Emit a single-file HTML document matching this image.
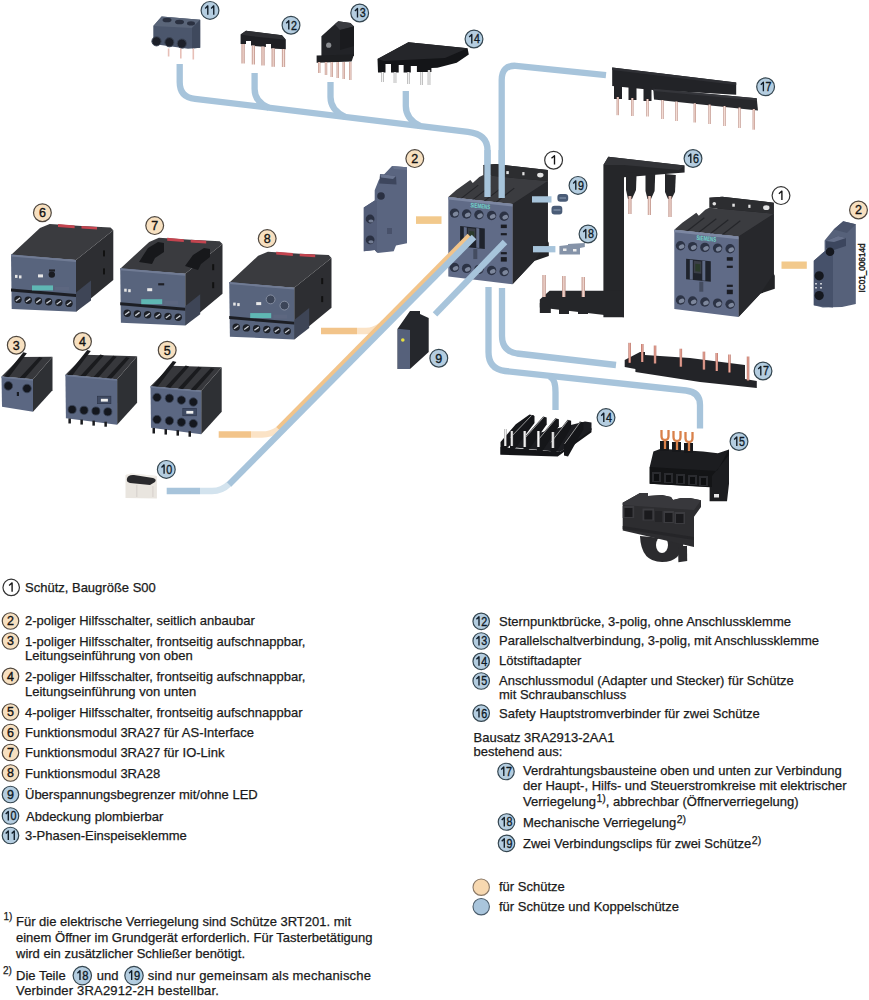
<!DOCTYPE html>
<html><head><meta charset="utf-8">
<style>
html,body{margin:0;padding:0;background:#fff;}
body{width:869px;height:1000px;position:relative;overflow:hidden;font-family:"Liberation Sans",sans-serif;color:#1a1a1a;}
.t{position:absolute;font-size:13px;line-height:15px;white-space:nowrap;-webkit-text-stroke:0.25px #1a1a1a;}
.t sup{font-size:10.5px;line-height:0;vertical-align:4px;margin-left:0.5px;}
svg{position:absolute;left:0;top:0;}
svg text{font-family:"Liberation Sans",sans-serif;}
</style></head><body>
<svg width="869" height="1000" viewBox="0 0 869 1000">
<defs>
<linearGradient id="pin" x1="0" x2="1"><stop offset="0" stop-color="#b98a80"/><stop offset="0.5" stop-color="#f4dcd4"/><stop offset="1" stop-color="#b98a80"/></linearGradient>
<linearGradient id="pinw" x1="0" x2="1"><stop offset="0" stop-color="#9a9a9a"/><stop offset="0.5" stop-color="#ffffff"/><stop offset="1" stop-color="#9a9a9a"/></linearGradient>
<linearGradient id="pinr" x1="0" x2="1"><stop offset="0" stop-color="#b0685c"/><stop offset="0.5" stop-color="#f0b0a2"/><stop offset="1" stop-color="#b0685c"/></linearGradient>
<linearGradient id="cop" x1="0" x2="1"><stop offset="0" stop-color="#9c5a38"/><stop offset="0.5" stop-color="#f0b890"/><stop offset="1" stop-color="#9c5a38"/></linearGradient>
<!-- contactor, origin at front top-left -->
<g id="ctr">
 <polygon points="35,-32 48,-33 99.5,-27 99.5,44 100.5,46 100.5,59 86,64 64.2,87.2 64.2,6.8" fill="#222326"/>
 <polygon points="64.2,6.8 99.5,-16 99.5,44 86,64 64.2,87.2" fill="#27282c"/>
 <polygon points="0,0 8,-7 22,-17 24.5,-14 31,-20 35,-22 99.5,-16 64.2,6.8" fill="#3b3c40"/>
 <polygon points="35,-32 48,-33 99.5,-27 99.5,-16 35,-22" fill="#2c2d30"/>
 <g fill="#e4e4e4"><circle cx="40" cy="-26" r="1.8"/><rect x="58" y="-26" width="2.5" height="3"/><rect x="74" y="-25" width="2.2" height="3.2"/><ellipse cx="92" cy="-22" rx="3.2" ry="2.4"/></g>
 <g stroke="#25262a" stroke-width="1.2"><path d="M12,2 L30,-12 M24,3 L42,-11 M36,4 L54,-10 M48,5 L66,-9"/></g>
 <polygon points="0,0 64.2,6.8 64.2,87.2 0,79.3" fill="#606b87"/>
 <polygon points="0,0 64.2,6.8 64.2,9.5 0,2.5" fill="#7c87a2"/>
 <text x="32" y="11.2" font-size="6.6" font-weight="bold" fill="#72d6cc" text-anchor="middle" textLength="20" lengthAdjust="spacingAndGlyphs" transform="rotate(6 32 9)">SIEMENS</text>
 <circle cx="6.2" cy="16" r="4.7" fill="#2c3345"/><ellipse cx="6.8" cy="17.3" rx="2.91" ry="2.12" fill="#7d879c" transform="rotate(-25 6.2 16)"/><circle cx="18.3" cy="16.9" r="4.7" fill="#2c3345"/><ellipse cx="18.900000000000002" cy="18.2" rx="2.91" ry="2.12" fill="#7d879c" transform="rotate(-25 18.3 16.9)"/><circle cx="30.6" cy="17.7" r="4.7" fill="#2c3345"/><ellipse cx="31.200000000000003" cy="19.0" rx="2.91" ry="2.12" fill="#7d879c" transform="rotate(-25 30.6 17.7)"/><circle cx="43.3" cy="18.4" r="4.7" fill="#2c3345"/><ellipse cx="43.9" cy="19.7" rx="2.91" ry="2.12" fill="#7d879c" transform="rotate(-25 43.3 18.4)"/><circle cx="55.8" cy="19.1" r="4.7" fill="#2c3345"/><ellipse cx="56.4" cy="20.400000000000002" rx="2.91" ry="2.12" fill="#7d879c" transform="rotate(-25 55.8 19.1)"/><circle cx="6.2" cy="70.3" r="4.7" fill="#2c3345"/><ellipse cx="6.8" cy="71.6" rx="2.91" ry="2.12" fill="#7d879c" transform="rotate(-25 6.2 70.3)"/><circle cx="18.3" cy="71.3" r="4.7" fill="#2c3345"/><ellipse cx="18.900000000000002" cy="72.6" rx="2.91" ry="2.12" fill="#7d879c" transform="rotate(-25 18.3 71.3)"/><circle cx="30.6" cy="72.3" r="4.7" fill="#2c3345"/><ellipse cx="31.200000000000003" cy="73.6" rx="2.91" ry="2.12" fill="#7d879c" transform="rotate(-25 30.6 72.3)"/><circle cx="43.3" cy="73.4" r="4.7" fill="#2c3345"/><ellipse cx="43.9" cy="74.7" rx="2.91" ry="2.12" fill="#7d879c" transform="rotate(-25 43.3 73.4)"/><circle cx="55.8" cy="74.5" r="4.7" fill="#2c3345"/><ellipse cx="56.4" cy="75.8" rx="2.91" ry="2.12" fill="#7d879c" transform="rotate(-25 55.8 74.5)"/>
 <polygon points="11.8,29 36.5,31.5 36.5,52 11.8,49.5" fill="#1f232c"/>
 <polygon points="15.5,30 18.5,30.3 18.5,50 15.5,49.7" fill="#606b87"/>
 <polygon points="28,31 31,31.3 31,51 28,50.7" fill="#606b87"/>
 <polygon points="19.5,31 27,31.7 27,44 19.5,43.3" fill="#3b3f48"/>
 <polygon points="21,34 26,34.5 26,42 21,41.5" fill="#2b3b2c"/>
 <rect x="25" y="52" width="4" height="10" fill="#444c60"/>
 <g fill="#1b1d24"><rect x="52.5" y="27.5" width="6" height="3.5"/><rect x="52.5" y="36" width="6" height="2.2"/><rect x="52.5" y="55" width="6" height="2.2"/><rect x="52.5" y="60" width="6" height="4.5"/></g>
</g>
<g id="fmod">
 <polygon points="65,5.6 102.3,-24.2 102.3,25.6 77.4,46.2 65,57.3" fill="#2d2e32"/>
 <polygon points="65,38 80,26 80,46 65,57.3" fill="#3e4556"/>
 <g fill="#111"><rect x="92" y="-4" width="2" height="6"/><rect x="92" y="14" width="2" height="6"/></g>
 <polygon points="0,0.6 29,-26.3 38.7,-30.4 70.5,-28.4 99.5,-27 102.3,-24.2 65,5.6" fill="#3a3b3f"/>
 <polygon points="47,-30.4 63.6,-29 63.6,-26.2 47,-27.5" fill="#c4444f"/>
 <polygon points="70.5,-28.4 86,-27.5 86,-24.8 70.5,-25.8" fill="#c4444f"/>
 <polygon points="0,0 65,5.6 65,57.3 0.7,54.6" fill="#58647d"/>
 <polygon points="0,0 65,5.6 65,7.5 0,2" fill="#707b94"/>
 <polygon points="0,34 65,39.6 65,42.5 0,37" fill="#1c1e24"/>
 <rect x="21" y="31" width="21" height="5" fill="#5fb7b4"/>
 <rect x="44" y="32.5" width="14" height="4" fill="#5d6780"/>
 <circle cx="7.0" cy="45.0" r="3.7" fill="#1d2027"/><path d="M4.8,46.6 l4.4,-3.2" stroke="#c9cdd4" stroke-width="1.3"/><circle cx="17.2" cy="45.8" r="3.7" fill="#1d2027"/><path d="M15.0,47.4 l4.4,-3.2" stroke="#c9cdd4" stroke-width="1.3"/><circle cx="27.4" cy="46.6" r="3.7" fill="#1d2027"/><path d="M25.2,48.2 l4.4,-3.2" stroke="#c9cdd4" stroke-width="1.3"/><circle cx="37.6" cy="47.4" r="3.7" fill="#1d2027"/><path d="M35.4,49.0 l4.4,-3.2" stroke="#c9cdd4" stroke-width="1.3"/><circle cx="47.8" cy="48.2" r="3.7" fill="#1d2027"/><path d="M45.6,49.8 l4.4,-3.2" stroke="#c9cdd4" stroke-width="1.3"/><circle cx="58.0" cy="49.0" r="3.7" fill="#1d2027"/><path d="M55.8,50.6 l4.4,-3.2" stroke="#c9cdd4" stroke-width="1.3"/>
 <rect x="4" y="20.5" width="2.5" height="3" fill="#e6e6e6"/><rect x="8" y="21" width="2.5" height="3" fill="#e6e6e6"/>
 <rect x="38" y="15" width="6" height="2.2" fill="#1e2026"/>
 <rect x="27" y="20" width="5" height="3" fill="#e8e8e8"/>
</g>
</defs>
<!-- ===== PIPES (behind) ===== -->
<g fill="none" stroke="#a7c4db" stroke-width="6.3" stroke-linejoin="round">
 <path d="M179.7,64 V82 Q179.7,97.5 195,98.8 L468,131.8 Q487.5,134 487.5,150 V197"/>
 <path d="M254.6,73 V89 Q254.6,102 269,107.8"/>
 <path d="M330.5,82 V97 Q330.5,110 345,116.8"/>
 <path d="M405.8,91 V106 Q405.8,119 420,125.9"/>
 <path d="M501.7,198 V80 Q501.7,65 516,65.8 L606,75.2"/>
 <path d="M488.5,287 V352 Q488.5,369 505,371 L686,390.5 Q700,392 700,405 V428.5"/>
 <path d="M502,288 V336 Q502,351 517,353.5 L616,365"/>
 <path d="M549,376.5 Q555.5,378 555.5,392 V410"/>
</g>
<!-- ===== COMPONENTS ===== -->
<use href="#fmod" x="11" y="254.4"/>
<circle cx="51.8" cy="274.6" r="3.2" fill="#1a1c22"/>
<use href="#fmod" x="120.2" y="268.2"/>
<g fill="#17181b"><polygon points="139,262 148,248 158,242 164,243 164,252 155,258 152,264"/><polygon points="185,266 193,255 204,248 210,249 210,257 201,264 198,270"/></g>
<use href="#fmod" x="229.2" y="282.1"/>
<g fill="#3c4558" stroke="#8a93a6" stroke-width="0.9"><circle cx="270.6" cy="299.4" r="4.4"/><circle cx="284.4" cy="305.6" r="4.4"/></g>
<use href="#ctr" x="448.3" y="197.1"/>
<use href="#ctr" x="674.3" y="229.7"/>
<!-- 11 terminal -->
<g>
 <polygon points="161.6,16.4 200.2,19.7 200.2,47.8 188,48.7 153.3,44 153.3,26.1" fill="#4b566c"/>
 <polygon points="161.6,16.4 200.2,19.7 192,28 153.3,26.1" fill="#5a6579"/>
 <polygon points="192,28 200.2,19.7 200.2,47.8 192,48.5" fill="#3f495d"/>
 <g fill="#2a3040"><ellipse cx="167" cy="20" rx="4.5" ry="2.3"/><ellipse cx="179.5" cy="22" rx="4.5" ry="2.3"/><ellipse cx="191" cy="23.4" rx="4" ry="2.1"/></g>
 <g fill="#1c1f28" stroke="#3c4556" stroke-width="1"><circle cx="156.5" cy="41.3" r="4.6"/><circle cx="169.4" cy="42.2" r="4.6"/><circle cx="181.8" cy="43.6" r="4.6"/></g>
 <g fill="#e7bfb7"><rect x="167.8" y="48.5" width="1.6" height="8"/><rect x="180" y="48.5" width="1.6" height="10"/><rect x="192.5" y="48.5" width="1.6" height="11"/></g>
</g>
<!-- 12 bridge -->
<g>
 <polygon points="240.6,34.5 246,30.8 282,35.3 285.8,39.7 285.8,49.2 271,48.5 271,44.1 265.9,44.1 265.9,47 251,45.6 251,41.1 246,41.1 246,44.1 240.6,44.1" fill="#1f2024"/>
 <polygon points="240.6,34.5 246,30.8 282,35.3 285.8,39.7 250,36" fill="#2e2f33"/>
 <g fill="url(#pin)"><rect x="241.5" y="44" width="3.2" height="19.5"/><rect x="251.8" y="45.5" width="3.2" height="19"/><rect x="261.4" y="46.5" width="3.2" height="19"/><rect x="271.6" y="48.3" width="3.2" height="18.5"/><rect x="281.9" y="49" width="3.2" height="18"/></g>
</g>
<!-- 13 parallel link -->
<g>
 <polygon points="321.4,36.3 334.7,24.2 338.3,21.3 350.4,23 354,26.6 354,56 321.4,56.5" fill="#222327"/>
 <polygon points="334.7,24.2 338.3,21.3 350.4,23 354,26.6 340,30" fill="#3a3b40"/>
 <polygon points="340,30 354,26.6 354,45.9 340,50" fill="#1a1b1e"/>
 <polygon points="316.6,55.6 354,54.4 351.6,61.6 316.6,62.8" fill="#1e1f22"/>
 <circle cx="328.7" cy="45.2" r="2.6" fill="#8a8c90"/>
 <g fill="url(#pin)"><rect x="318" y="62" width="2.4" height="11"/><rect x="324.8" y="62" width="2.4" height="13"/><rect x="330.6" y="62" width="2.4" height="15"/><rect x="336.6" y="62" width="2.4" height="16"/><rect x="342.6" y="62" width="2.4" height="17"/><rect x="349" y="62" width="2.4" height="18"/></g>
</g>
<!-- 14 top solder adapter -->
<g>
 <polygon points="377.5,59 408.4,42.3 467.6,48.3 468.8,54.4 456.7,62.8 437.4,67.7 431.4,68 431.4,72 416.9,72 416.9,66 410.8,66 410.8,72.5 403.6,72.5 403.6,65 398.7,65 398.7,72.5 391,72.5 391,64 385.5,64 385.5,72.5 378,72.5" fill="#141518"/>
 <polygon points="377.5,59 408.4,42.3 467.6,48.3 445,58 384,61" fill="#25262a"/>
 <g fill="url(#pinw)"><rect x="381.3" y="72" width="2.6" height="10"/><rect x="393.7" y="72" width="2.6" height="11"/><rect x="407" y="72" width="2.6" height="12"/><rect x="420.4" y="72" width="2.6" height="13"/><rect x="427.7" y="70" width="2.6" height="15"/></g>
</g>
<!-- 17 top wiring module -->
<g>
 <polygon points="612.2,67.4 736.2,82.6 736.2,94.7 653,90 612.2,86" fill="#222327"/>
 <polygon points="612.2,67.4 736.2,82.6 736.2,85 612.2,70" fill="#2e2f34"/>
 <g fill="#222327"><rect x="614" y="84" width="8" height="15"/><rect x="628.5" y="85" width="8" height="15"/><rect x="643.5" y="86" width="8" height="15"/></g>
 <polygon points="653.3,88.7 756.7,98.3 758,110.4 654,99.5" fill="#27282c"/>
 <polygon points="653.3,88.7 756.7,98.3 756.9,100.5 653.4,91" fill="#34353a"/>
 <g fill="url(#pin)"><rect x="661.3" y="100" width="2.4" height="19"/><rect x="675.3" y="101.5" width="2.4" height="19.5"/><rect x="693.5999999999999" y="103.2" width="2.4" height="19.299999999999997"/><rect x="708.4" y="104.5" width="2.4" height="19.5"/><rect x="723.3" y="106" width="2.4" height="20"/><rect x="738.3" y="107.5" width="2.4" height="20.5"/><rect x="752.5999999999999" y="109" width="2.4" height="20.69999999999999"/><rect x="616.5999999999999" y="97" width="2.4" height="18.200000000000003"/><rect x="631.0999999999999" y="98" width="2.4" height="18"/><rect x="646.3" y="99" width="2.4" height="17.5"/></g>
</g>
<!-- 16 safety connector -->
<g>
 <polygon points="603.4,165 608.3,156.7 684.6,165.5 684.6,172.4 624,177.3 624,317.2 603.4,317.2" fill="#252629"/>
 <polygon points="603.4,165 608.3,156.7 684.6,165.5 679,170 624,165 " fill="#333438"/>
 <polygon points="539.8,299.6 549.6,290.8 603.4,290.8 624,290.8 624,317.2 539.8,307.4" fill="#252629"/>
 <g fill="#252629"><polygon points="626,172 636.6,173 636,190 632,199 628,199 626,190"/><polygon points="645.5,173 655.2,174 654.6,191 651,199 647.5,199 645.5,191"/><polygon points="665,174 675.8,175 675,192 671.5,199 668,199 665,192"/>
 <rect x="539.8" y="303" width="11" height="10"/><rect x="559" y="305" width="10" height="9"/><rect x="578" y="306" width="10" height="8"/></g>
 <g fill="url(#pin)"><rect x="628.3" y="196" width="3.2" height="18"/><rect x="647.8" y="196" width="3.2" height="19"/><rect x="668.4" y="196" width="3.2" height="21"/><rect x="542.4" y="275" width="3.4" height="22"/><rect x="562.1" y="276" width="3.4" height="21"/><rect x="581.6" y="277" width="3.4" height="20"/></g>
</g>
<!-- 2 left aux -->
<polygon points="392,166.1 407,167.3 407,243.2 396,245.5 393.7,251.3 377.6,253 374.7,250.1 363.8,251.3 363.8,207.5 374.7,200.6 374.7,190.3 378.8,180" fill="#5a6580"/>
<polygon points="363.8,207.5 374.7,200.6 377,201 377,252.5 374.7,250.1 363.8,251.3" fill="#535d78"/>
<polygon points="392,166.1 407,167.3 407,170 394,169" fill="#67728c"/>
<polygon points="380,174 396,176 396.5,184.5 379.3,183.4" fill="#3d465d"/>
<polygon points="380,174 396,176 393,179 381,177.5" fill="#6a7590"/>
<g fill="#2a3042"><circle cx="370.1" cy="219" r="4.4"/><circle cx="370.1" cy="239.8" r="4.4"/><circle cx="381" cy="196" r="3.8"/></g>
<g fill="#737d94"><ellipse cx="371" cy="221" rx="2.6" ry="1.6"/><ellipse cx="371" cy="241.8" rx="2.6" ry="1.6"/></g>
<rect x="387" y="228" width="5" height="6" fill="#48516a"/>
<!-- 2 right aux -->
<polygon points="843.2,221.2 855.8,224.2 855.8,304 842,307 822.8,307.6 813.8,305.2 813.8,260.8 824.6,251.2 824.6,240.4 833.6,229.6" fill="#56617a"/>
<polygon points="813.8,260.8 824.6,251.2 833,250 833,307.5 813.8,305.2" fill="#46516a"/>
<polygon points="833.6,229.6 843.2,221.2 855.8,224.2 847,233" fill="#4a546c"/><polygon points="826,241 838,236 846,238 846,246 834,250 826,248" fill="#3c465e"/><polygon points="826,241 838,236 846,238 834,242" fill="#66708a"/>
<g fill="#15181f"><circle cx="819.2" cy="275.8" r="4.6"/><circle cx="819.2" cy="295.6" r="4.6"/><circle cx="830" cy="251.8" r="4.3"/></g>
<g fill="#c8ccd4"><rect x="815" y="283" width="2" height="1.5"/><rect x="820" y="283" width="2" height="1.5"/><rect x="815" y="287" width="2" height="1.5"/><rect x="820" y="287" width="2" height="1.5"/></g>
<text transform="translate(864.6,292.5) rotate(-90)" font-size="9.2" fill="#222" stroke="#222" stroke-width="0.45" textLength="49" lengthAdjust="spacingAndGlyphs">IC01_00614d</text>
<!-- 3,4,5 aux front -->
<g transform="translate(1.5,376.5)"><polygon points="31.5,2.835 51.0,-19.665 51.0,13.634999999999998 31.5,35.135" fill="#2e3034"/><polygon points="0,0 19.5,-19.5 51.0,-19.665 31.5,2.835" fill="#37383c"/><polygon points="2.4,0.2 21.9,-24.3 25.4,-23.3 7.4,0.7" fill="#1a1b1e"/><polygon points="18.1,1.6 37.6,-19.4 41.1,-18.4 23.1,2.1" fill="#1a1b1e"/><polygon points="0,0 31.5,2.835 31.5,35.135 0.5,30.299999999999997" fill="#5b6782"/><polygon points="0,0 31.5,2.835 31.5,4.335 0,1.5" fill="#6c7892"/><circle cx="6.8" cy="9.4" r="4.3" fill="#14171e" stroke="#3a4458" stroke-width="0.8"/><circle cx="25.5" cy="12" r="4.3" fill="#14171e" stroke="#3a4458" stroke-width="0.8"/><rect x="15.3" y="15.5" width="2.2" height="4" fill="#1a1d24"/></g>
<g transform="translate(65.4,374.7)"><polygon points="51.7,4.6530000000000005 71.7,-18.347 71.7,28.153 51.7,50.153" fill="#2e3034"/><polygon points="0,0 20,-20 71.7,-18.347 51.7,4.6530000000000005" fill="#37383c"/><polygon points="1.9,0.2 21.9,-24.8 25.4,-23.8 6.9,0.7" fill="#1a1b1e"/><polygon points="14.9,1.3 34.9,-20.2 38.4,-19.2 19.9,1.8" fill="#1a1b1e"/><polygon points="27.8,2.5 47.8,-19.0 51.3,-18.0 32.8,3.0" fill="#1a1b1e"/><polygon points="40.7,3.7 60.7,-17.8 64.2,-16.8 45.7,4.2" fill="#1a1b1e"/><polygon points="0,0 51.7,4.6530000000000005 51.7,50.153 0.5,43.5" fill="#5b6782"/><polygon points="0,0 51.7,4.6530000000000005 51.7,6.1530000000000005 0,1.5" fill="#6c7892"/><circle cx="6.7" cy="34.8" r="4.1" fill="#14171e" stroke="#3a4458" stroke-width="0.8"/><circle cx="18.6" cy="35.6" r="4.1" fill="#14171e" stroke="#3a4458" stroke-width="0.8"/><circle cx="30.5" cy="36.3" r="4.1" fill="#14171e" stroke="#3a4458" stroke-width="0.8"/><circle cx="42.4" cy="37.1" r="4.1" fill="#14171e" stroke="#3a4458" stroke-width="0.8"/><rect x="32" y="21.5" width="13.5" height="7.5" fill="#3f4a62" stroke="#2b3346" stroke-width="0.6"/><rect x="35.5" y="24.1" width="7" height="2.8" fill="#f0f0f0"/><rect x="3" y="43.77" width="2.5" height="5" fill="#1a1b1f"/><rect x="15" y="44.85" width="2.5" height="5" fill="#1a1b1f"/><rect x="27" y="45.93" width="2.5" height="5" fill="#1a1b1f"/><rect x="39" y="47.01" width="2.5" height="5" fill="#1a1b1f"/></g>
<g transform="translate(150.5,386.3)"><polygon points="50.7,4.563 71.2,-18.937 71.2,25.563 50.7,48.063" fill="#2e3034"/><polygon points="0,0 20.5,-20.5 71.2,-18.937 50.7,4.563" fill="#37383c"/><polygon points="1.9,0.2 22.4,-25.3 25.9,-24.3 6.9,0.7" fill="#1a1b1e"/><polygon points="14.6,1.3 35.1,-20.7 38.6,-19.7 19.6,1.8" fill="#1a1b1e"/><polygon points="27.3,2.5 47.8,-19.5 51.3,-18.5 32.3,3.0" fill="#1a1b1e"/><polygon points="39.9,3.6 60.4,-18.4 63.9,-17.4 44.9,4.1" fill="#1a1b1e"/><polygon points="0,0 50.7,4.563 50.7,48.063 0.5,41.5" fill="#5b6782"/><polygon points="0,0 50.7,4.563 50.7,6.063 0,1.5" fill="#6c7892"/><circle cx="6.5" cy="11.1" r="4.2" fill="#14171e" stroke="#3a4458" stroke-width="0.8"/><circle cx="18.9" cy="12" r="4.2" fill="#14171e" stroke="#3a4458" stroke-width="0.8"/><circle cx="30.9" cy="13.8" r="4.2" fill="#14171e" stroke="#3a4458" stroke-width="0.8"/><circle cx="42.8" cy="15.7" r="4.2" fill="#14171e" stroke="#3a4458" stroke-width="0.8"/><circle cx="6.5" cy="33.2" r="4.2" fill="#14171e" stroke="#3a4458" stroke-width="0.8"/><circle cx="18.9" cy="34.5" r="4.2" fill="#14171e" stroke="#3a4458" stroke-width="0.8"/><circle cx="30.9" cy="35.9" r="4.2" fill="#14171e" stroke="#3a4458" stroke-width="0.8"/><circle cx="42.8" cy="37.3" r="4.2" fill="#14171e" stroke="#3a4458" stroke-width="0.8"/><rect x="32.3" y="22" width="13.5" height="7.5" fill="#3f4a62" stroke="#2b3346" stroke-width="0.6"/><rect x="35.8" y="24.6" width="7" height="2.8" fill="#f0f0f0"/><rect x="2" y="41.68" width="2.5" height="5.5" fill="#1a1b1f"/><rect x="14" y="42.76" width="2.5" height="5.5" fill="#1a1b1f"/><rect x="26" y="43.84" width="2.5" height="5.5" fill="#1a1b1f"/><rect x="38" y="44.92" width="2.5" height="5.5" fill="#1a1b1f"/></g>
<!-- 9 surge suppressor -->
<polygon points="397.6,328.7 410,311 420,311 420,314 428.7,318 428.7,352 410,369 397.6,369" fill="#25272c"/>
<polygon points="397.6,328.7 410,330 410,369 397.6,369" fill="#56617b"/>
<circle cx="402.8" cy="340" r="1.8" fill="#e8e040"/>
<!-- 10 cover -->
<g>
 <polygon points="125.5,475 131,473.5 156.9,476 156.9,498.5 125.5,498" fill="#e9e5df"/>
 <polygon points="125.5,475 131,473.5 156.9,476 151,478" fill="#f2efea"/>
 <path d="M127,478.5 Q128,474.5 134,475 L153,478 Q157,479 155,482 L150,485 L130,483 Q126,482 127,478.5 Z" fill="#2a2a2d"/>
 <g stroke="#d0ccc6" stroke-width="0.8"><path d="M136.8,485 V497 M152.9,486 V497"/></g>
</g>
<!-- 18,19 -->
<g fill="#4a5c77"><rect x="557.4" y="194" width="10.8" height="7.8" rx="3"/><rect x="551.5" y="205.7" width="10.8" height="8.8" rx="3"/></g><g stroke="#8fa0b8" stroke-width="1"><path d="M559.5,198 H566 M553.5,210 H560.5"/></g>
<g fill="#8593a8"><polygon points="559.4,246 568,245 568,244 584.8,243 584.8,247 580,248 580,254.6 559.4,254.6"/><rect x="563" y="248.5" width="3.5" height="2.5" fill="#eee"/><rect x="573" y="249" width="3.5" height="2.5" fill="#eee"/></g>
<!-- 14 bottom, 15, 17 bottom -->
<g>
 <polygon points="500.5,441.9 515.8,424.2 529.5,414.5 534,415.5 534,423 505,450 500.5,454.8" fill="#151619"/>
 <polygon points="500.5,447 560,452 591.5,428 591.5,432.2 557.7,456.4 500.5,454.8" fill="#141518"/>
 <polygon points="510,440 585,421.5 591.5,422.6 591.5,430 560,452 510,447" fill="#1c1d21"/>
 <polygon points="510.0,437.0 531.0,415.0 534.5,416.0 534.5,423.0 514.0,450.0 510.0,449.0" fill="#151619"/><path d="M510.5,437.5 L531.5,415.5" stroke="#cfcfcf" stroke-width="0.7"/><polygon points="523.5,438.6 543.2,416.6 546.7,417.6 546.7,424.6 527.5,451.6 523.5,450.6" fill="#151619"/><path d="M524.0,439.1 L543.7,417.1" stroke="#cfcfcf" stroke-width="0.7"/><polygon points="537.0,440.2 555.4,418.2 558.9,419.2 558.9,426.2 541.0,453.2 537.0,452.2" fill="#151619"/><path d="M537.5,440.7 L555.9,418.7" stroke="#cfcfcf" stroke-width="0.7"/><polygon points="550.5,441.8 567.6,419.8 571.1,420.8 571.1,427.8 554.5,454.8 550.5,453.8" fill="#151619"/><path d="M551.0,442.3 L568.1,420.3" stroke="#cfcfcf" stroke-width="0.7"/><polygon points="564.0,443.4 579.8,421.4 583.3,422.4 583.3,429.4 568.0,456.4 564.0,455.4" fill="#151619"/><path d="M564.5,443.9 L580.3,421.9" stroke="#cfcfcf" stroke-width="0.7"/>
 <g fill="url(#pinw)"><rect x="504" y="429" width="2.6" height="17"/><rect x="510.5" y="431" width="2.6" height="15"/><rect x="523.3" y="431" width="2.8" height="16"/><rect x="537" y="431" width="2.8" height="16"/><rect x="551.5" y="432" width="2.8" height="16"/></g>
</g>
<g>
 <polygon points="624.7,360 640,352 645,352 645,355 690,358 745,365 745,379 756.8,381 756.8,388 700,382 635.4,372 635.4,369 624.7,367" fill="#232428"/>
 <g fill="url(#pinr)"><rect x="628.4" y="342.8" width="2.5" height="20"/><rect x="641" y="344" width="2.5" height="18"/><rect x="653.8" y="345.5" width="2.5" height="18"/><rect x="679.6" y="348.7" width="2.5" height="18"/><rect x="702.7" y="351.6" width="2.5" height="18"/><rect x="715.5" y="353" width="2.5" height="18"/><rect x="728.2" y="354.5" width="2.5" height="18"/><rect x="746.8" y="356.5" width="2.5" height="24"/></g>
</g>
<g>
 <polygon points="653.4,451.4 660.8,448.7 703,451.4 717.9,453.3 729,449.6 729,483.7 727,501.2 709.6,501.2 709.6,487.3 649.7,483.7 649.7,467" fill="#1c1d20"/>
 <polygon points="649.7,467 717,471 729,449.6 729,455 712,476 712,487 649.7,483.7" fill="#131416"/>
 <g fill="#2a2b2f"><rect x="652" y="472" width="9" height="10"/><rect x="664" y="473" width="9" height="10"/><rect x="676" y="474" width="9" height="10"/><rect x="688" y="475" width="9" height="10"/><rect x="699" y="476" width="9" height="10"/></g>
 <g fill="#0e0f11"><rect x="654" y="474" width="5" height="7"/><rect x="666" y="475" width="5" height="7"/><rect x="678" y="476" width="5" height="7"/><rect x="690" y="477" width="5" height="7"/><rect x="701" y="478" width="5" height="7"/></g>
 <rect x="714" y="494" width="5" height="3.5" fill="#e6e6e6"/>
 <g fill="#17181b"><rect x="660" y="441" width="9" height="10"/><rect x="672" y="442" width="9" height="10"/><rect x="684" y="443" width="9" height="10"/></g>
 <path d="M665,449 V440 M677,450 V441 M689,451 V442 M661.5,430 V436 q0,4 3.5,4 q3.5,0 3.5,-4 V430 M673.5,431 V437 q0,4 3.5,4 q3.5,0 3.5,-4 V431 M685.5,432 V438 q0,4 3.5,4 q3.5,0 3.5,-4 V432" fill="none" stroke="#d9814a" stroke-width="2.3"/>
</g>
<g>
 <path d="M640,536 Q641,562 662,562 Q682,562 684,540 Z" fill="#2b2b2e"/>
 <ellipse cx="662" cy="545" rx="6" ry="8" fill="#fff"/>
 <polygon points="622.7,502.8 640,493 648,493 648,496 662,495 671,497 673,500 681,498 690,498 701,500.2 701,507 694,516.7 694,547 622.7,530.6" fill="#2d2d30"/>
 <polygon points="622.7,502.8 640,493 648,493 648,496 662,495 671,497 673,500 681,498 690,498 701,500.2 694,510 622.7,505" fill="#38383c"/>
 <polygon points="678,546 687,546 687.2,561 678.4,562.3" fill="#2b2b2e"/>
 <g fill="#3b3b3f"><rect x="622.7" y="506" width="11.5" height="12"/><rect x="642.5" y="508.5" width="11.5" height="12"/><rect x="663.4" y="511" width="10.5" height="12"/><rect x="674.5" y="512" width="10.5" height="12"/></g>
 <g fill="#1a1a1d"><rect x="624.5" y="508" width="8" height="9"/><rect x="644.3" y="510.5" width="8" height="9"/><rect x="665" y="513" width="7.5" height="9"/><rect x="676" y="514" width="7.5" height="9"/></g>
 <rect x="655" y="511" width="7" height="11" fill="#232326"/>
 <polygon points="622.7,526 694,537 694,540 622.7,529" fill="#252528"/>
</g>
<!-- ===== long diagonal pipes ===== -->
<g fill="none" stroke-width="6.3">
 <path d="M321,331 H357" stroke="#f2c48a"/>
 <path d="M357,331 H366 Q374,331 381,325.6 L384,322.5" stroke="#fbe3c6"/>
 <path d="M218.7,434.5 H251" stroke="#f2c48a"/>
 <path d="M251,434.5 H262 Q271,434.5 278.5,429.2" stroke="#fbe3c6"/>
 <path d="M278.5,429.2 L469.8,236" stroke="#f2c48a"/>
 <path d="M166.7,491 H200" stroke="#a7c4db"/>
 <path d="M200,491 H212 Q222,491 229,484" stroke="#d3e3ee"/>
 <path d="M229,484.5 L474,237" stroke="#a7c4db"/>
 <path d="M505,242 L435,314.4" stroke="#a7c4db"/>
</g>
<g fill="none" stroke="#a7c4db" stroke-width="6.3">
 <path d="M487.5,150 V197"/><path d="M501.7,150 V198"/>
 <path d="M532,199.4 H551.5"/><path d="M533,249.2 H555.4"/>
</g>
<rect x="416" y="216.3" width="25.5" height="7.6" fill="#f2c98c"/>
<rect x="781.5" y="261.5" width="25.3" height="7.3" fill="#f2c98c"/>

<circle cx="11.2" cy="587.4" r="8.25" fill="#ffffff" stroke="#333333" stroke-width="1.2"/><path d="M12.10,591.80 V582.85 L9.10,585.45" fill="none" stroke="#111" stroke-width="1.35" stroke-linejoin="round"/><circle cx="10.5" cy="621" r="8.25" fill="#f7e0c0" stroke="#4e463e" stroke-width="1.2"/><text x="10.50" y="625.40" font-size="12.5" text-anchor="middle" fill="#111" stroke="#111" stroke-width="0.35" transform="translate(10.50,0) scale(1.0,1) translate(-10.50,0)">2</text><circle cx="10.5" cy="641" r="8.25" fill="#f7e0c0" stroke="#4e463e" stroke-width="1.2"/><text x="10.50" y="645.40" font-size="12.5" text-anchor="middle" fill="#111" stroke="#111" stroke-width="0.35" transform="translate(10.50,0) scale(1.0,1) translate(-10.50,0)">3</text><circle cx="10.5" cy="676.3" r="8.25" fill="#f7e0c0" stroke="#4e463e" stroke-width="1.2"/><text x="10.50" y="680.70" font-size="12.5" text-anchor="middle" fill="#111" stroke="#111" stroke-width="0.35" transform="translate(10.50,0) scale(1.0,1) translate(-10.50,0)">4</text><circle cx="10.5" cy="712" r="8.25" fill="#f7e0c0" stroke="#4e463e" stroke-width="1.2"/><text x="10.50" y="716.40" font-size="12.5" text-anchor="middle" fill="#111" stroke="#111" stroke-width="0.35" transform="translate(10.50,0) scale(1.0,1) translate(-10.50,0)">5</text><circle cx="10.5" cy="732.5" r="8.25" fill="#f7e0c0" stroke="#4e463e" stroke-width="1.2"/><text x="10.50" y="736.90" font-size="12.5" text-anchor="middle" fill="#111" stroke="#111" stroke-width="0.35" transform="translate(10.50,0) scale(1.0,1) translate(-10.50,0)">6</text><circle cx="10.5" cy="752.5" r="8.25" fill="#f7e0c0" stroke="#4e463e" stroke-width="1.2"/><text x="10.50" y="756.90" font-size="12.5" text-anchor="middle" fill="#111" stroke="#111" stroke-width="0.35" transform="translate(10.50,0) scale(1.0,1) translate(-10.50,0)">7</text><circle cx="10.5" cy="773" r="8.25" fill="#f7e0c0" stroke="#4e463e" stroke-width="1.2"/><text x="10.50" y="777.40" font-size="12.5" text-anchor="middle" fill="#111" stroke="#111" stroke-width="0.35" transform="translate(10.50,0) scale(1.0,1) translate(-10.50,0)">8</text><circle cx="10.5" cy="794.5" r="8.25" fill="#b4cde0" stroke="#34454f" stroke-width="1.2"/><text x="10.50" y="798.90" font-size="12.5" text-anchor="middle" fill="#0e1a26" stroke="#0e1a26" stroke-width="0.35" transform="translate(10.50,0) scale(1.0,1) translate(-10.50,0)">9</text><circle cx="10.5" cy="816" r="8.25" fill="#b4cde0" stroke="#34454f" stroke-width="1.2"/><path d="M8.29,820.40 V811.45 L5.71,814.05" fill="none" stroke="#0e1a26" stroke-width="1.35" stroke-linejoin="round"/><text x="13.49" y="820.40" font-size="12.5" text-anchor="middle" fill="#0e1a26" stroke="#0e1a26" stroke-width="0.35" transform="translate(13.49,0) scale(0.86,1) translate(-13.49,0)">0</text><circle cx="10.5" cy="835.5" r="8.25" fill="#b4cde0" stroke="#34454f" stroke-width="1.2"/><path d="M8.29,839.90 V830.95 L5.71,833.55" fill="none" stroke="#0e1a26" stroke-width="1.35" stroke-linejoin="round"/><path d="M14.26,839.90 V830.95 L11.68,833.55" fill="none" stroke="#0e1a26" stroke-width="1.35" stroke-linejoin="round"/><circle cx="481.2" cy="621.3" r="8.25" fill="#b4cde0" stroke="#34454f" stroke-width="1.2"/><path d="M478.99,625.70 V616.75 L476.41,619.35" fill="none" stroke="#0e1a26" stroke-width="1.35" stroke-linejoin="round"/><text x="484.19" y="625.70" font-size="12.5" text-anchor="middle" fill="#0e1a26" stroke="#0e1a26" stroke-width="0.35" transform="translate(484.19,0) scale(0.86,1) translate(-484.19,0)">2</text><circle cx="481.2" cy="641" r="8.25" fill="#b4cde0" stroke="#34454f" stroke-width="1.2"/><path d="M478.99,645.40 V636.45 L476.41,639.05" fill="none" stroke="#0e1a26" stroke-width="1.35" stroke-linejoin="round"/><text x="484.19" y="645.40" font-size="12.5" text-anchor="middle" fill="#0e1a26" stroke="#0e1a26" stroke-width="0.35" transform="translate(484.19,0) scale(0.86,1) translate(-484.19,0)">3</text><circle cx="481.2" cy="661.3" r="8.25" fill="#b4cde0" stroke="#34454f" stroke-width="1.2"/><path d="M478.99,665.70 V656.75 L476.41,659.35" fill="none" stroke="#0e1a26" stroke-width="1.35" stroke-linejoin="round"/><text x="484.19" y="665.70" font-size="12.5" text-anchor="middle" fill="#0e1a26" stroke="#0e1a26" stroke-width="0.35" transform="translate(484.19,0) scale(0.86,1) translate(-484.19,0)">4</text><circle cx="481.2" cy="681" r="8.25" fill="#b4cde0" stroke="#34454f" stroke-width="1.2"/><path d="M478.99,685.40 V676.45 L476.41,679.05" fill="none" stroke="#0e1a26" stroke-width="1.35" stroke-linejoin="round"/><text x="484.19" y="685.40" font-size="12.5" text-anchor="middle" fill="#0e1a26" stroke="#0e1a26" stroke-width="0.35" transform="translate(484.19,0) scale(0.86,1) translate(-484.19,0)">5</text><circle cx="481.2" cy="713.2" r="8.25" fill="#b4cde0" stroke="#34454f" stroke-width="1.2"/><path d="M478.99,717.60 V708.65 L476.41,711.25" fill="none" stroke="#0e1a26" stroke-width="1.35" stroke-linejoin="round"/><text x="484.19" y="717.60" font-size="12.5" text-anchor="middle" fill="#0e1a26" stroke="#0e1a26" stroke-width="0.35" transform="translate(484.19,0) scale(0.86,1) translate(-484.19,0)">6</text><circle cx="506" cy="771.5" r="8.25" fill="#b4cde0" stroke="#34454f" stroke-width="1.2"/><path d="M503.79,775.90 V766.95 L501.21,769.55" fill="none" stroke="#0e1a26" stroke-width="1.35" stroke-linejoin="round"/><text x="508.99" y="775.90" font-size="12.5" text-anchor="middle" fill="#0e1a26" stroke="#0e1a26" stroke-width="0.35" transform="translate(508.99,0) scale(0.86,1) translate(-508.99,0)">7</text><circle cx="506.5" cy="822" r="8.25" fill="#b4cde0" stroke="#34454f" stroke-width="1.2"/><path d="M504.29,826.40 V817.45 L501.71,820.05" fill="none" stroke="#0e1a26" stroke-width="1.35" stroke-linejoin="round"/><text x="509.49" y="826.40" font-size="12.5" text-anchor="middle" fill="#0e1a26" stroke="#0e1a26" stroke-width="0.35" transform="translate(509.49,0) scale(0.86,1) translate(-509.49,0)">8</text><circle cx="506.5" cy="843.3" r="8.25" fill="#b4cde0" stroke="#34454f" stroke-width="1.2"/><path d="M504.29,847.70 V838.75 L501.71,841.35" fill="none" stroke="#0e1a26" stroke-width="1.35" stroke-linejoin="round"/><text x="509.49" y="847.70" font-size="12.5" text-anchor="middle" fill="#0e1a26" stroke="#0e1a26" stroke-width="0.35" transform="translate(509.49,0) scale(0.86,1) translate(-509.49,0)">9</text><circle cx="481.2" cy="887.2" r="8.2" fill="#f7d8b0" stroke="#8a7866" stroke-width="1.1"/><circle cx="481.2" cy="906.7" r="8.2" fill="#a9c5dc" stroke="#4a5c6b" stroke-width="1.1"/><circle cx="82.3" cy="975.6" r="9.2" fill="#b4cde0" stroke="#34454f" stroke-width="1.2"/><path d="M79.97,980.00 V970.69 L77.39,973.29" fill="none" stroke="#0e1a26" stroke-width="1.35" stroke-linejoin="round"/><text x="85.41" y="980.00" font-size="13" text-anchor="middle" fill="#0e1a26" stroke="#0e1a26" stroke-width="0.35" transform="translate(85.41,0) scale(0.86,1) translate(-85.41,0)">8</text><circle cx="134" cy="975.6" r="9.2" fill="#b4cde0" stroke="#34454f" stroke-width="1.2"/><path d="M131.67,980.00 V970.69 L129.09,973.29" fill="none" stroke="#0e1a26" stroke-width="1.35" stroke-linejoin="round"/><text x="137.11" y="980.00" font-size="13" text-anchor="middle" fill="#0e1a26" stroke="#0e1a26" stroke-width="0.35" transform="translate(137.11,0) scale(0.86,1) translate(-137.11,0)">9</text><circle cx="210" cy="10.4" r="8.9" fill="#b4cde0" stroke="#34454f" stroke-width="1.2"/><path d="M207.79,14.80 V5.85 L205.21,8.45" fill="none" stroke="#0e1a26" stroke-width="1.35" stroke-linejoin="round"/><path d="M213.76,14.80 V5.85 L211.18,8.45" fill="none" stroke="#0e1a26" stroke-width="1.35" stroke-linejoin="round"/><circle cx="291" cy="25.2" r="8.9" fill="#b4cde0" stroke="#34454f" stroke-width="1.2"/><path d="M288.79,29.60 V20.65 L286.21,23.25" fill="none" stroke="#0e1a26" stroke-width="1.35" stroke-linejoin="round"/><text x="293.99" y="29.60" font-size="12.5" text-anchor="middle" fill="#0e1a26" stroke="#0e1a26" stroke-width="0.35" transform="translate(293.99,0) scale(0.86,1) translate(-293.99,0)">2</text><circle cx="359.7" cy="13" r="8.9" fill="#b4cde0" stroke="#34454f" stroke-width="1.2"/><path d="M357.49,17.40 V8.45 L354.91,11.05" fill="none" stroke="#0e1a26" stroke-width="1.35" stroke-linejoin="round"/><text x="362.69" y="17.40" font-size="12.5" text-anchor="middle" fill="#0e1a26" stroke="#0e1a26" stroke-width="0.35" transform="translate(362.69,0) scale(0.86,1) translate(-362.69,0)">3</text><circle cx="474" cy="39" r="8.9" fill="#b4cde0" stroke="#34454f" stroke-width="1.2"/><path d="M471.79,43.40 V34.45 L469.21,37.05" fill="none" stroke="#0e1a26" stroke-width="1.35" stroke-linejoin="round"/><text x="476.99" y="43.40" font-size="12.5" text-anchor="middle" fill="#0e1a26" stroke="#0e1a26" stroke-width="0.35" transform="translate(476.99,0) scale(0.86,1) translate(-476.99,0)">4</text><circle cx="765.6" cy="86.8" r="8.9" fill="#b4cde0" stroke="#34454f" stroke-width="1.2"/><path d="M763.39,91.20 V82.25 L760.81,84.85" fill="none" stroke="#0e1a26" stroke-width="1.35" stroke-linejoin="round"/><text x="768.59" y="91.20" font-size="12.5" text-anchor="middle" fill="#0e1a26" stroke="#0e1a26" stroke-width="0.35" transform="translate(768.59,0) scale(0.86,1) translate(-768.59,0)">7</text><circle cx="553.6" cy="160.2" r="8.9" fill="#ffffff" stroke="#333333" stroke-width="1.2"/><path d="M554.50,164.60 V155.65 L551.50,158.25" fill="none" stroke="#111" stroke-width="1.35" stroke-linejoin="round"/><circle cx="693" cy="158.5" r="8.9" fill="#b4cde0" stroke="#34454f" stroke-width="1.2"/><path d="M690.79,162.90 V153.95 L688.21,156.55" fill="none" stroke="#0e1a26" stroke-width="1.35" stroke-linejoin="round"/><text x="695.99" y="162.90" font-size="12.5" text-anchor="middle" fill="#0e1a26" stroke="#0e1a26" stroke-width="0.35" transform="translate(695.99,0) scale(0.86,1) translate(-695.99,0)">6</text><circle cx="578" cy="185.4" r="8.9" fill="#b4cde0" stroke="#34454f" stroke-width="1.2"/><path d="M575.79,189.80 V180.85 L573.21,183.45" fill="none" stroke="#0e1a26" stroke-width="1.35" stroke-linejoin="round"/><text x="580.99" y="189.80" font-size="12.5" text-anchor="middle" fill="#0e1a26" stroke="#0e1a26" stroke-width="0.35" transform="translate(580.99,0) scale(0.86,1) translate(-580.99,0)">9</text><circle cx="588" cy="234" r="8.9" fill="#b4cde0" stroke="#34454f" stroke-width="1.2"/><path d="M585.79,238.40 V229.45 L583.21,232.05" fill="none" stroke="#0e1a26" stroke-width="1.35" stroke-linejoin="round"/><text x="590.99" y="238.40" font-size="12.5" text-anchor="middle" fill="#0e1a26" stroke="#0e1a26" stroke-width="0.35" transform="translate(590.99,0) scale(0.86,1) translate(-590.99,0)">8</text><circle cx="781" cy="195.6" r="8.9" fill="#ffffff" stroke="#333333" stroke-width="1.2"/><path d="M781.90,200.00 V191.05 L778.90,193.65" fill="none" stroke="#111" stroke-width="1.35" stroke-linejoin="round"/><circle cx="858.5" cy="210" r="8.9" fill="#f7e0c0" stroke="#4e463e" stroke-width="1.2"/><text x="858.50" y="214.40" font-size="12.5" text-anchor="middle" fill="#111" stroke="#111" stroke-width="0.35" transform="translate(858.50,0) scale(1.0,1) translate(-858.50,0)">2</text><circle cx="414.8" cy="158.6" r="8.9" fill="#f7e0c0" stroke="#4e463e" stroke-width="1.2"/><text x="414.80" y="163.00" font-size="12.5" text-anchor="middle" fill="#111" stroke="#111" stroke-width="0.35" transform="translate(414.80,0) scale(1.0,1) translate(-414.80,0)">2</text><circle cx="42.4" cy="212.7" r="8.9" fill="#f7e0c0" stroke="#4e463e" stroke-width="1.2"/><text x="42.40" y="217.10" font-size="12.5" text-anchor="middle" fill="#111" stroke="#111" stroke-width="0.35" transform="translate(42.40,0) scale(1.0,1) translate(-42.40,0)">6</text><circle cx="154.7" cy="225.6" r="8.9" fill="#f7e0c0" stroke="#4e463e" stroke-width="1.2"/><text x="154.70" y="230.00" font-size="12.5" text-anchor="middle" fill="#111" stroke="#111" stroke-width="0.35" transform="translate(154.70,0) scale(1.0,1) translate(-154.70,0)">7</text><circle cx="267.2" cy="238.6" r="8.9" fill="#f7e0c0" stroke="#4e463e" stroke-width="1.2"/><text x="267.20" y="243.00" font-size="12.5" text-anchor="middle" fill="#111" stroke="#111" stroke-width="0.35" transform="translate(267.20,0) scale(1.0,1) translate(-267.20,0)">8</text><circle cx="16.3" cy="345.2" r="8.9" fill="#f7e0c0" stroke="#4e463e" stroke-width="1.2"/><text x="16.30" y="349.60" font-size="12.5" text-anchor="middle" fill="#111" stroke="#111" stroke-width="0.35" transform="translate(16.30,0) scale(1.0,1) translate(-16.30,0)">3</text><circle cx="82.5" cy="341.5" r="8.9" fill="#f7e0c0" stroke="#4e463e" stroke-width="1.2"/><text x="82.50" y="345.90" font-size="12.5" text-anchor="middle" fill="#111" stroke="#111" stroke-width="0.35" transform="translate(82.50,0) scale(1.0,1) translate(-82.50,0)">4</text><circle cx="167.2" cy="350.2" r="8.9" fill="#f7e0c0" stroke="#4e463e" stroke-width="1.2"/><text x="167.20" y="354.60" font-size="12.5" text-anchor="middle" fill="#111" stroke="#111" stroke-width="0.35" transform="translate(167.20,0) scale(1.0,1) translate(-167.20,0)">5</text><circle cx="438.8" cy="358.2" r="8.9" fill="#b4cde0" stroke="#34454f" stroke-width="1.2"/><text x="438.80" y="362.60" font-size="12.5" text-anchor="middle" fill="#0e1a26" stroke="#0e1a26" stroke-width="0.35" transform="translate(438.80,0) scale(1.0,1) translate(-438.80,0)">9</text><circle cx="166.3" cy="469.4" r="8.9" fill="#b4cde0" stroke="#34454f" stroke-width="1.2"/><path d="M164.09,473.80 V464.85 L161.51,467.45" fill="none" stroke="#0e1a26" stroke-width="1.35" stroke-linejoin="round"/><text x="169.29" y="473.80" font-size="12.5" text-anchor="middle" fill="#0e1a26" stroke="#0e1a26" stroke-width="0.35" transform="translate(169.29,0) scale(0.86,1) translate(-169.29,0)">0</text><circle cx="763" cy="371" r="8.9" fill="#b4cde0" stroke="#34454f" stroke-width="1.2"/><path d="M760.79,375.40 V366.45 L758.21,369.05" fill="none" stroke="#0e1a26" stroke-width="1.35" stroke-linejoin="round"/><text x="765.99" y="375.40" font-size="12.5" text-anchor="middle" fill="#0e1a26" stroke="#0e1a26" stroke-width="0.35" transform="translate(765.99,0) scale(0.86,1) translate(-765.99,0)">7</text><circle cx="606" cy="417.6" r="8.9" fill="#b4cde0" stroke="#34454f" stroke-width="1.2"/><path d="M603.79,422.00 V413.05 L601.21,415.65" fill="none" stroke="#0e1a26" stroke-width="1.35" stroke-linejoin="round"/><text x="608.99" y="422.00" font-size="12.5" text-anchor="middle" fill="#0e1a26" stroke="#0e1a26" stroke-width="0.35" transform="translate(608.99,0) scale(0.86,1) translate(-608.99,0)">4</text><circle cx="739" cy="441.5" r="8.9" fill="#b4cde0" stroke="#34454f" stroke-width="1.2"/><path d="M736.79,445.90 V436.95 L734.21,439.55" fill="none" stroke="#0e1a26" stroke-width="1.35" stroke-linejoin="round"/><text x="741.99" y="445.90" font-size="12.5" text-anchor="middle" fill="#0e1a26" stroke="#0e1a26" stroke-width="0.35" transform="translate(741.99,0) scale(0.86,1) translate(-741.99,0)">5</text>
</svg>
<div class="t" style="left:25px;top:579.6px;">Schütz, Baugröße S00</div><div class="t" style="left:25px;top:613.0px;">2-poliger Hilfsschalter, seitlich anbaubar</div><div class="t" style="left:25px;top:633.5px;">1-poliger Hilfsschalter, frontseitig aufschnappbar,</div><div class="t" style="left:25px;top:648.0px;">Leitungseinführung von oben</div><div class="t" style="left:25px;top:669.0px;">2-poliger Hilfsschalter, frontseitig aufschnappbar,</div><div class="t" style="left:25px;top:683.5px;">Leitungseinführung von unten</div><div class="t" style="left:25px;top:704.5px;">4-poliger Hilfsschalter, frontseitig aufschnappbar</div><div class="t" style="left:25px;top:725.0px;">Funktionsmodul 3RA27 für AS-Interface</div><div class="t" style="left:25px;top:745.0px;">Funktionsmodul 3RA27 für IO-Link</div><div class="t" style="left:25px;top:765.5px;">Funktionsmodul 3RA28</div><div class="t" style="left:25px;top:787.0px;">Überspannungsbegrenzer mit/ohne LED</div><div class="t" style="left:26px;top:808.5px;">Abdeckung plombierbar</div><div class="t" style="left:25px;top:828.0px;">3-Phasen-Einspeiseklemme</div><div class="t" style="left:499px;top:614.0px;">Sternpunktbrücke, 3-polig, ohne Anschlussklemme</div><div class="t" style="left:499px;top:633.0px;">Parallelschaltverbindung, 3-polig, mit Anschlussklemme</div><div class="t" style="left:499px;top:653.0px;">Lötstiftadapter</div><div class="t" style="left:499px;top:672.5px;">Anschlussmodul (Adapter und Stecker) für Schütze</div><div class="t" style="left:499px;top:686.5px;">mit Schraubanschluss</div><div class="t" style="left:499px;top:705.5px;">Safety Hauptstromverbinder für zwei Schütze</div><div class="t" style="left:473.5px;top:729.5px;">Bausatz 3RA2913-2AA1</div><div class="t" style="left:473.5px;top:744.0px;">bestehend aus:</div><div class="t" style="left:523px;top:762.5px;">Verdrahtungsbausteine oben und unten zur Verbindung</div><div class="t" style="left:523px;top:778.0px;">der Haupt-, Hilfs- und Steuerstromkreise mit elektrischer</div><div class="t" style="left:523px;top:793.5px;">Verriegelung<sup>1)</sup>, abbrechbar (Öffnerverriegelung)</div><div class="t" style="left:523px;top:814.5px;">Mechanische Verriegelung<sup>2)</sup></div><div class="t" style="left:523px;top:835.8px;">Zwei Verbindungsclips für zwei Schütze<sup>2)</sup></div><div class="t" style="left:499px;top:879.0px;">für Schütze</div><div class="t" style="left:499px;top:898.8px;">für Schütze und Koppelschütze</div><div class="t" style="left:3.5px;top:909.0px;font-size:10px">1)</div><div class="t" style="left:16px;top:913.5px;">Für die elektrische Verriegelung sind Schütze 3RT201. mit</div><div class="t" style="left:16px;top:929.5px;">einem Öffner im Grundgerät erforderlich. Für Tasterbetätigung</div><div class="t" style="left:16px;top:945.5px;">wird ein zusätzlicher Schließer benötigt.</div><div class="t" style="left:3px;top:962.5px;font-size:10px">2)</div><div class="t" style="left:16px;top:967.5px;">Die Teile</div><div class="t" style="left:96.7px;top:967.5px;">und</div><div class="t" style="left:147.8px;top:967.5px;letter-spacing:0.17px">sind nur gemeinsam als mechanische</div><div class="t" style="left:16px;top:982.5px;letter-spacing:0.18px">Verbinder 3RA2912-2H bestellbar.</div>
</body></html>
